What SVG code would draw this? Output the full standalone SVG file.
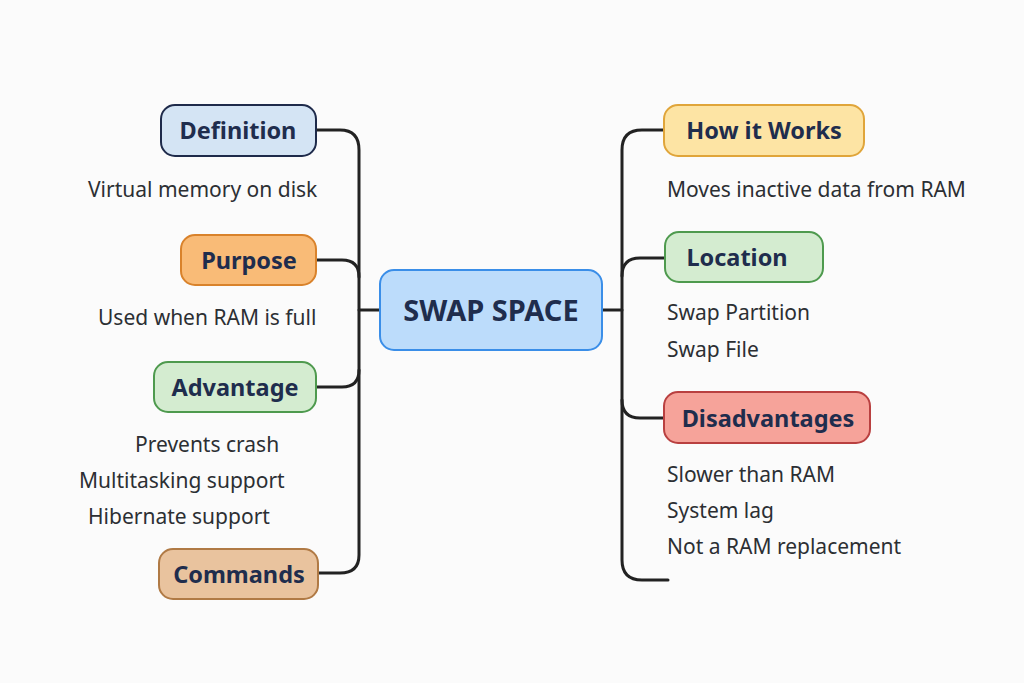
<svg xmlns="http://www.w3.org/2000/svg" width="1024" height="683" viewBox="0 0 1024 683">
<style>
.n{stroke-width:2}
.l{font-family:"Noto Sans","Open Sans",sans-serif;font-weight:bold;font-size:23.5px;fill:#1f2d4d;text-anchor:middle}
.c{font-size:29px}
.t{font-family:"Noto Sans","Open Sans",sans-serif;font-size:21px;fill:#2c2f33}
.k{fill:none;stroke:#222;stroke-width:3;stroke-linecap:round}
</style>
<rect width="1024" height="683" fill="#fbfbfb"/>
<g id="connectors">
<path class="k" d="M316,130 H340 Q359,130 359,150 V555 Q359,573 340,573 H318"/>
<path class="k" d="M316,260 H342 Q359,260 359,277"/>
<path class="k" d="M316,387 H342 Q359,387 359,370"/>
<path class="k" d="M359,310 H380"/>
<path class="k" d="M664,130 H642 Q622,130 622,150 V560 Q622,580 642,580 H668"/>
<path class="k" d="M665,258 H640 Q622,258 622,276"/>
<path class="k" d="M664,418 H640 Q622,418 622,400"/>
<path class="k" d="M602,310 H622"/>
</g>
<g id="center"><rect class="n" x="380" y="270" width="222" height="80" rx="14" fill="#bcdcfb" stroke="#3a8ee8"/><text class="l c" x="491" y="321">SWAP SPACE</text></g>
<g id="definition"><rect class="n" x="161" y="105" width="155" height="51" rx="14" fill="#d4e4f4" stroke="#1e2a4a"/><text class="l" x="238" y="139">Definition</text></g>
<text class="t" x="88" y="197">Virtual memory on disk</text>
<g id="purpose"><rect class="n" x="181" y="235" width="135" height="50" rx="14" fill="#f9bb77" stroke="#d9822b"/><text class="l" x="249" y="269">Purpose</text></g>
<text class="t" x="98" y="325">Used when RAM is full</text>
<g id="advantage"><rect class="n" x="154" y="362" width="162" height="50" rx="14" fill="#d4ecd0" stroke="#4e9a4e"/><text class="l" x="235" y="396">Advantage</text></g>
<text class="t" x="135" y="452">Prevents crash</text>
<text class="t" x="79" y="488">Multitasking support</text>
<text class="t" x="88" y="524">Hibernate support</text>
<g id="commands"><rect class="n" x="159" y="549" width="159" height="50" rx="14" fill="#e9c39e" stroke="#b07a45"/><text class="l" x="239" y="583">Commands</text></g>
<g id="how"><rect class="n" x="664" y="105" width="200" height="51" rx="14" fill="#fde4a4" stroke="#e0a53a"/><text class="l" x="764" y="139">How it Works</text></g>
<text class="t" x="667" y="197">Moves inactive data from RAM</text>
<g id="location"><rect class="n" x="665" y="232" width="158" height="50" rx="14" fill="#d4ecd0" stroke="#4e9a4e"/><text class="l" x="737" y="266">Location</text></g>
<text class="t" x="667" y="320">Swap Partition</text>
<text class="t" x="667" y="357">Swap File</text>
<g id="disadvantages"><rect class="n" x="664" y="392" width="206" height="51" rx="14" fill="#f6a39a" stroke="#b94040"/><text class="l" x="768" y="427">Disadvantages</text></g>
<text class="t" x="667" y="482">Slower than RAM</text>
<text class="t" x="667" y="518">System lag</text>
<text class="t" x="667" y="554">Not a RAM replacement</text>
</svg>
